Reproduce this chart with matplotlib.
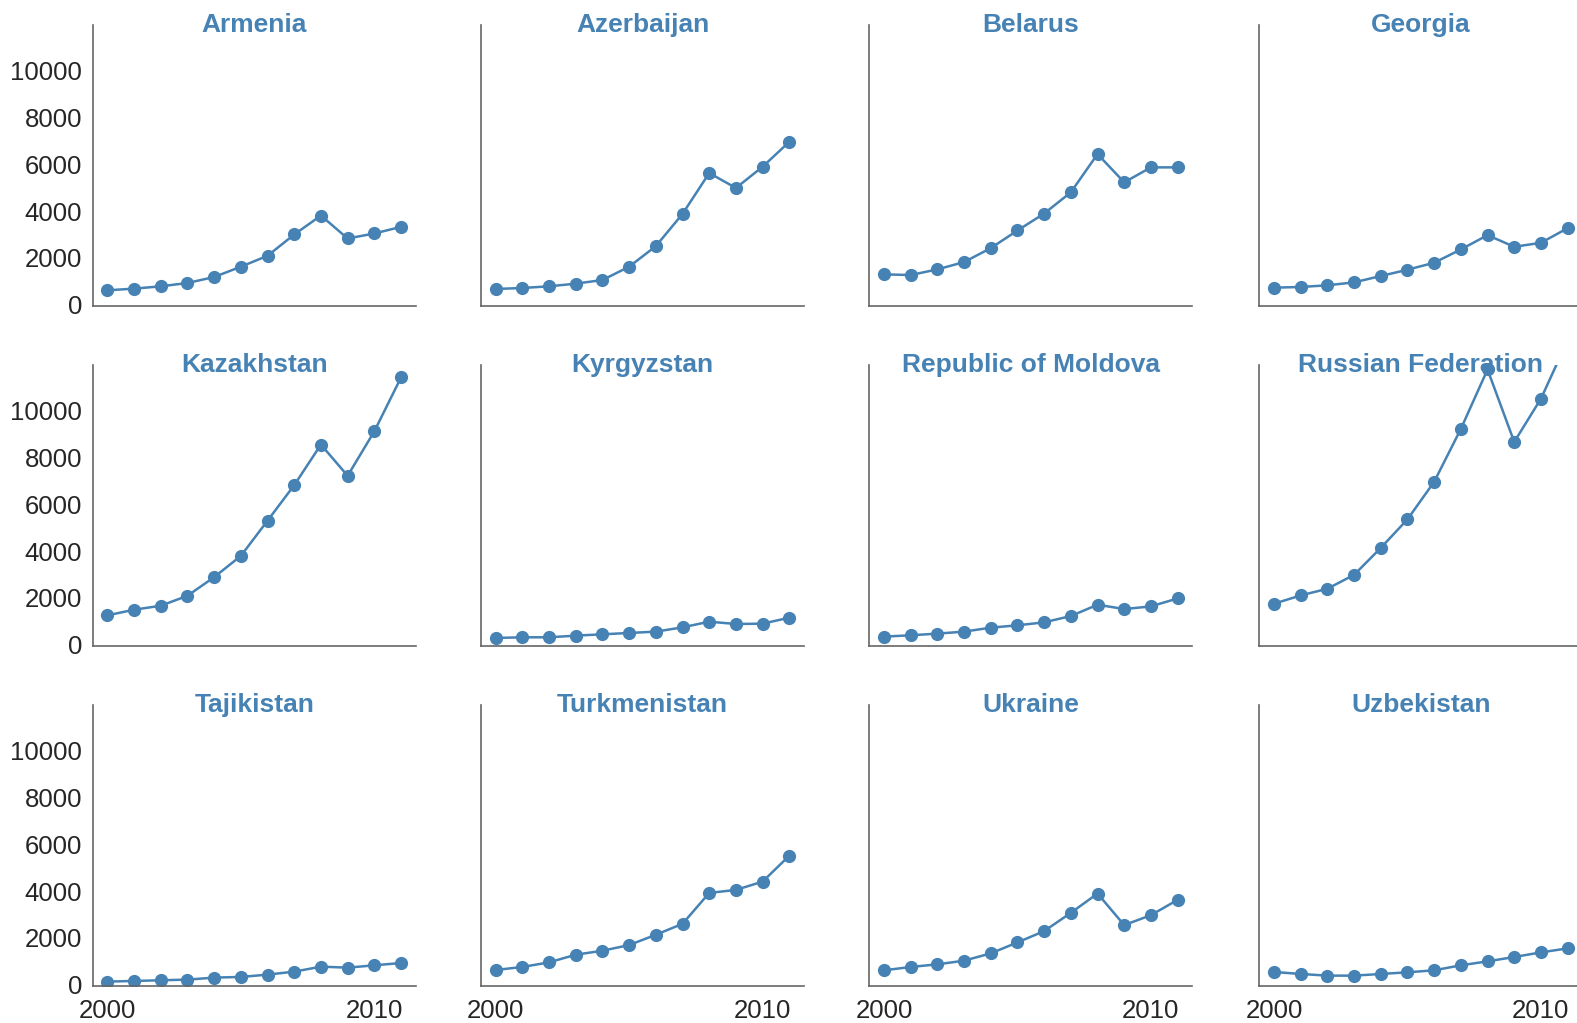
import numpy as np
import matplotlib
matplotlib.use("Agg")
import matplotlib.pyplot as plt

years = list(range(2000, 2012))

countries = ["Armenia", "Azerbaijan", "Belarus", "Georgia",
             "Kazakhstan", "Kyrgyzstan", "Republic of Moldova", "Russian Federation",
             "Tajikistan", "Turkmenistan", "Ukraine", "Uzbekistan"]

armenia = [611, 682, 781, 923, 1179, 1619, 2087, 2996, 3806, 2826, 3039, 3323]
azerbaijan = [667, 710, 781, 895, 1051, 1619, 2499, 3877, 5623, 4984, 5893, 6958]
belarus = [1292, 1264, 1505, 1818, 2414, 3167, 3891, 4800, 6433, 5226, 5865, 5865]
georgia = [724, 753, 824, 951, 1221, 1491, 1789, 2357, 2968, 2471, 2641, 3266]
kazakhstan = [1250, 1491, 1661, 2087, 2883, 3791, 5297, 6816, 8548, 7214, 9116, 11417]
kyrgyzstan = [284, 312, 312, 383, 440, 497, 554, 738, 980, 880, 895, 1150]
moldova = [341, 398, 469, 554, 724, 824, 951, 1221, 1704, 1519, 1633, 1974]
russia = [1747, 2102, 2386, 2982, 4132, 5353, 6958, 9216, 11758, 8662, 10508, 13000]
tajikistan = [128, 156, 185, 213, 298, 327, 426, 554, 767, 724, 824, 923]
turkmenistan = [625, 753, 951, 1278, 1448, 1690, 2130, 2599, 3919, 4047, 4402, 5510]
ukraine = [611, 753, 866, 1022, 1335, 1803, 2286, 3067, 3891, 2542, 2968, 3621]
uzbekistan = [540, 454, 383, 383, 454, 525, 611, 824, 994, 1179, 1377, 1548]

series = [armenia, azerbaijan, belarus, georgia,
          kazakhstan, kyrgyzstan, moldova, russia,
          tajikistan, turkmenistan, ukraine, uzbekistan]

yticks = [0, 2000, 4000, 6000, 8000, 10000]
xticks = [2000, 2010]

plt.rcParams['font.family'] = ['Liberation Sans', 'DejaVu Sans']

W, H = 1577, 1023
fig = plt.figure(figsize=(W / 100, H / 100), dpi=100)

col_left = [92.7, 481, 869.3, 1259.3]   # px
row_top = [25, 365, 705]                  # px from top
ax_w, ax_h = 323, 281

col = "steelblue"
for i, name in enumerate(countries):
    r, c = divmod(i, 4)
    rect = [col_left[c] / W, (H - row_top[r] - ax_h) / H, ax_w / W, ax_h / H]
    ax = fig.add_axes(rect)
    ax.plot(years, series[i], color=col, lw=1.8, marker="o", ms=9.5, mew=0)
    ax.set_ylim(-60, 11950)
    ax.set_yticks(yticks)
    ax.set_xticks(xticks)
    for s in ["top", "right"]:
        ax.spines[s].set_visible(False)
    for s in ["left", "bottom"]:
        ax.spines[s].set_color("0.4")
        ax.spines[s].set_linewidth(1.2)
    ax.tick_params(axis="y", length=0, pad=7.5, labelsize=18.5, labelcolor="#262626")
    ax.tick_params(axis="x", length=0, pad=9, labelsize=18.5, labelcolor="#262626")
    if c != 0:
        ax.tick_params(axis="y", labelleft=False)
    if r != 2:
        ax.tick_params(axis="x", labelbottom=False)
    ax.set_title(name, color=col, fontsize=19, fontweight="bold",
                 y=1 - 6.7 / ax_h, pad=0)

fig.savefig("out.png", dpi=100)
